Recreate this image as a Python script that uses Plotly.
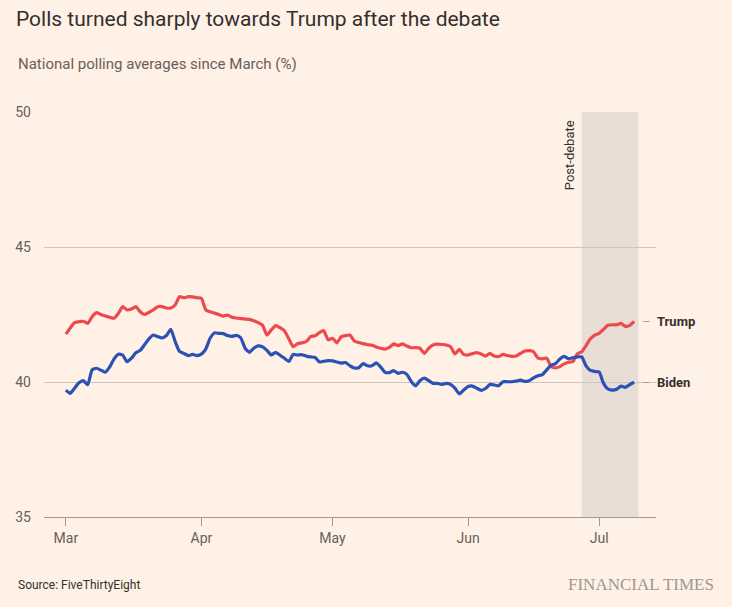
import datetime as dt
import plotly.graph_objects as go

start = dt.date(2024, 3, 1)

trump = [41.77, 42.0, 42.2, 42.23, 42.25, 42.17, 42.42, 42.57, 42.5, 42.45,
         42.4, 42.36, 42.54, 42.79, 42.67, 42.7, 42.79, 42.6, 42.5, 42.58,
         42.67, 42.79, 42.79, 42.74, 42.74, 42.85, 43.16, 43.12, 43.16, 43.15,
         43.12, 43.1, 42.67, 42.6, 42.55, 42.5, 42.44, 42.48, 42.4, 42.37,
         42.35, 42.33, 42.32, 42.27, 42.2, 42.1, 41.74, 41.93, 42.09, 42.01,
         41.9, 41.6, 41.31, 41.42, 41.45, 41.5, 41.68, 41.71, 41.83, 41.9,
         41.56, 41.62, 41.45, 41.68, 41.72, 41.74, 41.52, 41.46, 41.42, 41.38,
         41.36, 41.3, 41.25, 41.22, 41.28, 41.41, 41.35, 41.41, 41.33, 41.27,
         41.27, 41.25, 41.06, 41.25, 41.37, 41.4, 41.39, 41.37, 41.31, 41.04,
         41.21, 41.02, 41.0, 41.05, 41.09, 41.04, 40.96, 41.06, 40.96, 40.94,
         41.02, 40.98, 40.95, 40.96, 41.06, 41.15, 41.16, 41.12, 40.88, 40.86,
         40.88, 40.57, 40.52, 40.57, 40.67, 40.73, 40.76, 41.04, 41.12, 41.35,
         41.6, 41.74, 41.8, 41.95, 42.1, 42.12, 42.12, 42.17, 42.06, 42.1,
         42.24]

biden = [39.7, 39.58, 39.77, 39.97, 40.05, 39.9, 40.45, 40.51, 40.44, 40.36,
         40.55, 40.85, 41.03, 41.0, 40.75, 40.88, 41.08, 41.17, 41.38, 41.6,
         41.74, 41.68, 41.63, 41.72, 41.95, 41.5, 41.13, 41.06, 40.98, 41.02,
         40.98, 41.03, 41.22, 41.62, 41.82, 41.8, 41.79, 41.72, 41.69, 41.73,
         41.64, 41.25, 41.1, 41.25, 41.34, 41.3, 41.17, 41.0, 41.1, 40.99,
         40.88, 40.76, 41.02, 41.0, 41.01, 40.96, 40.93, 40.91, 40.74, 40.77,
         40.79, 40.78, 40.74, 40.7, 40.72, 40.6, 40.52, 40.53, 40.68, 40.6,
         40.6, 40.71, 40.56, 40.36, 40.35, 40.42, 40.32, 40.36, 40.28, 40.02,
         39.86, 40.05, 40.14, 40.05, 39.95, 39.95, 39.91, 39.95, 39.91, 39.77,
         39.56, 39.7, 39.83, 39.85, 39.77, 39.69, 39.76, 39.91, 39.89, 39.86,
         40.01, 40.01, 40.01, 40.03, 40.07, 40.02, 40.05, 40.15, 40.23, 40.27,
         40.45, 40.62, 40.68, 40.85, 40.95, 40.86, 40.9, 40.93, 40.93, 40.6,
         40.43, 40.39, 40.37, 39.95, 39.74, 39.7, 39.73, 39.85, 39.8, 39.9,
         39.99]

dates = [start + dt.timedelta(days=i) for i in range(len(trump))]

debate_start = "2024-06-27"
debate_end = "2024-07-10"
x_range = ["2024-02-25", "2024-07-14"]
y_ticks = [35, 40, 45, 50]

BG = "#FFF1E5"
TEXT = "#33302E"
MUTED = "#66605C"
FONT = "Roboto"
RED = "#EC4A4F"
BLUE = "#2A51B5"

W, H = 732, 607
ML, MR, MT, MB = 44, 76, 112, 90
PW, PH = W - ML - MR, H - MT - MB


def px_x(px):
    return (px - ML) / PW


def px_y(py):
    return (H - MB - py) / PH


fig = go.Figure()
fig.add_vrect(x0=debate_start, x1=debate_end, fillcolor="#E9DED6", line_width=0,
              layer="below")
fig.add_trace(go.Scatter(x=dates, y=trump, mode="lines", name="Trump",
                         line=dict(color=RED, width=3.2, shape="spline", smoothing=0.5)))
fig.add_trace(go.Scatter(x=dates, y=biden, mode="lines", name="Biden",
                         line=dict(color=BLUE, width=3.2, shape="spline", smoothing=0.5)))

for name, vals in (("Trump", trump), ("Biden", biden)):
    fig.add_annotation(x=dates[-1], y=vals[-1], xref="x", yref="y",
                       text=f'<span style="color:#A8A19B">–</span>  <b>{name}</b>',
                       showarrow=False, xanchor="left", yanchor="middle", xshift=6,
                       font=dict(family=FONT, size=13, color=TEXT))

fig.add_annotation(x=debate_start, y=50, xref="x", yref="y", text="Post-debate",
                   textangle=-90, showarrow=False, xanchor="right", yanchor="top",
                   xshift=-3, yshift=-6, font=dict(family=FONT, size=13, color=TEXT))

fig.update_layout(
    width=W, height=H,
    paper_bgcolor=BG, plot_bgcolor=BG,
    margin=dict(l=ML, r=MR, t=MT, b=MB),
    showlegend=False,
    font=dict(family=FONT, color=MUTED, size=14),
    title=dict(text="Polls turned sharply towards Trump after the debate",
               x=16 / W, xanchor="left", y=1 - 19 / H, yanchor="middle",
               font=dict(family=FONT, size=21, color=TEXT)),
)

fig.add_annotation(x=px_x(16), y=px_y(64), xref="paper", yref="paper",
                   text="National polling averages since March (%)", showarrow=False,
                   xanchor="left", yanchor="middle",
                   font=dict(family=FONT, size=15, color=MUTED))
fig.add_annotation(x=px_x(16), y=px_y(585), xref="paper", yref="paper",
                   text="Source: FiveThirtyEight", showarrow=False,
                   xanchor="left", yanchor="middle",
                   font=dict(family=FONT, size=12, color=TEXT))
fig.add_annotation(x=px_x(716), y=px_y(584), xref="paper", yref="paper",
                   text="FINANCIAL TIMES", showarrow=False,
                   xanchor="right", yanchor="middle",
                   font=dict(family="Liberation Serif", size=17, color="#9E9791"))

fig.update_xaxes(range=x_range, tick0="2024-03-01", dtick="M1", tickformat="%b",
                 ticks="outside", ticklen=8, tickcolor="#A09A94", tickwidth=1,
                 showgrid=False, showline=True, linecolor="#A09A94", linewidth=1,
                 tickfont=dict(family=FONT, size=14, color=MUTED), zeroline=False)
fig.update_yaxes(range=[35, 50], tickvals=y_ticks, showgrid=True,
                 gridcolor="#CFC5BB", gridwidth=1, zeroline=False, showline=False,
                 ticks="", ticklabelstandoff=12,
                 tickfont=dict(family=FONT, size=14, color=MUTED))

fig.write_html("out.html")
